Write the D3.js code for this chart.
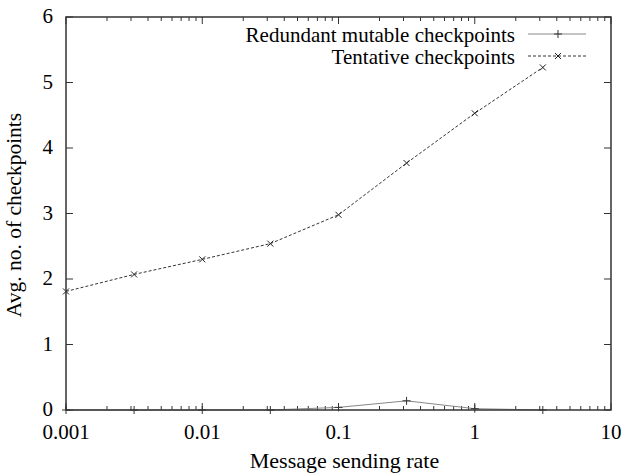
<!DOCTYPE html>
<html>
<head>
<meta charset="utf-8">
<script src="https://cdn.jsdelivr.net/npm/d3@7"></script>
<style>
  body { margin: 0; background: #fff; }
</style>
</head>
<body>
<div id="chart"></div>
<script>
// data
var rates = [0.001, 0.00316, 0.01, 0.0316, 0.1, 0.316, 1, 3.16];
var redundant = [0, 0, 0, 0, 0.04, 0.14, 0.02, 0];
var tentative = [1.81, 2.07, 2.30, 2.54, 2.98, 3.77, 4.53, 5.23];
var xTicks = [0.001, 0.01, 0.1, 1, 10];
var xTickLabels = ["0.001", "0.01", "0.1", "1", "10"];
var yTicks = [0, 1, 2, 3, 4, 5, 6];
var seriesNames = ["Redundant mutable checkpoints", "Tentative checkpoints"];

var FONT = "'Liberation Serif'";

var margin = { top: 17, right: 13, bottom: 64, left: 66 },
  width = 624 - margin.left - margin.right,
  height = 474 - margin.top - margin.bottom;

var svg = d3
  .select("#chart")
  .append("svg")
  .attr("width", 624)
  .attr("height", 474)
  .append("g")
  .attr("transform", "translate(" + margin.left + "," + margin.top + ")");

var x = d3.scaleLog().domain([0.001, 10]).range([0, width]);
var y = d3.scaleLinear().domain([0, 6]).range([height, 0]);

var axisColor = "#333";

// minor log ticks
var minor = [];
[0.001, 0.01, 0.1, 1].forEach(function (d) {
  for (var k = 2; k <= 9; k++) minor.push(d * k);
});

var ticks = svg.append("g").attr("stroke", axisColor).attr("stroke-width", 1);
// x major ticks bottom + top
xTicks.forEach(function (t) {
  ticks.append("line").attr("x1", x(t)).attr("x2", x(t)).attr("y1", height).attr("y2", height - 7);
  ticks.append("line").attr("x1", x(t)).attr("x2", x(t)).attr("y1", 0).attr("y2", 7);
});
minor.forEach(function (t) {
  ticks.append("line").attr("x1", x(t)).attr("x2", x(t)).attr("y1", height).attr("y2", height - 4);
  ticks.append("line").attr("x1", x(t)).attr("x2", x(t)).attr("y1", 0).attr("y2", 4);
});
yTicks.forEach(function (t) {
  ticks.append("line").attr("x1", 0).attr("x2", 7).attr("y1", y(t)).attr("y2", y(t));
  ticks.append("line").attr("x1", width).attr("x2", width - 7).attr("y1", y(t)).attr("y2", y(t));
});

// tick labels
svg
  .selectAll(".xlab")
  .data(xTicks)
  .enter()
  .append("text")
  .attr("x", function (d) { return x(d); })
  .attr("y", height + 29)
  .style("font-family", FONT)
  .style("text-anchor", "middle")
  .style("font-size", "21px")
  .text(function (d, i) { return xTickLabels[i]; });

svg
  .selectAll(".ylab")
  .data(yTicks)
  .enter()
  .append("text")
  .attr("x", -13)
  .attr("y", function (d) { return y(d) + 6; })
  .style("font-family", FONT)
  .style("text-anchor", "end")
  .style("font-size", "21px")
  .text(function (d) { return d; });

// axis labels
svg
  .append("text")
  .attr("x", width / 2 + 6)
  .attr("y", height + 58)
  .style("font-family", FONT)
  .style("text-anchor", "middle")
  .style("font-size", "22px")
  .text("Message sending rate");

svg
  .append("text")
  .attr("transform", "rotate(-90)")
  .attr("x", -198)
  .attr("y", -45)
  .style("font-family", FONT)
  .style("text-anchor", "middle")
  .style("font-size", "21.5px")
  .text("Avg. no. of checkpoints");

var line = d3
  .line()
  .x(function (d) { return x(d[0]); })
  .y(function (d) { return y(d[1]); });

var redData = rates.map(function (r, i) { return [r, redundant[i]]; });
var tenData = rates.map(function (r, i) { return [r, tentative[i]]; });

svg.append("path").datum(redData).attr("d", line)
  .attr("fill", "none").attr("stroke", "#888").attr("stroke-width", 1);
svg.append("path").datum(tenData).attr("d", line)
  .attr("fill", "none").attr("stroke", "#333").attr("stroke-width", 1)
  .attr("stroke-dasharray", "3,2");

function plus(g, cx, cy, s, c) {
  g.append("line").attr("x1", cx - s).attr("x2", cx + s).attr("y1", cy).attr("y2", cy).attr("stroke", c);
  g.append("line").attr("x1", cx).attr("x2", cx).attr("y1", cy - s).attr("y2", cy + s).attr("stroke", c);
}
function cross(g, cx, cy, s, c) {
  g.append("line").attr("x1", cx - s).attr("x2", cx + s).attr("y1", cy - s).attr("y2", cy + s).attr("stroke", c);
  g.append("line").attr("x1", cx - s).attr("x2", cx + s).attr("y1", cy + s).attr("y2", cy - s).attr("stroke", c);
}

var marks = svg.append("g").attr("stroke-width", 1);
redData.forEach(function (d) { plus(marks, x(d[0]), y(d[1]), 4, "#333"); });
tenData.forEach(function (d) { cross(marks, x(d[0]), y(d[1]), 3, "#222"); });

// frame
svg.append("rect")
  .attr("width", width).attr("height", height)
  .attr("fill", "none").attr("stroke", axisColor).attr("stroke-width", 1.5);

// legend
var legend = svg.append("g");
var legY = [17, 39];
seriesNames.forEach(function (name, i) {
  legend.append("text")
    .attr("x", 449)
    .attr("y", legY[i] + 8)
    .style("font-family", FONT)
    .style("text-anchor", "end")
    .style("font-size", "21px")
    .text(name);
  legend.append("line")
    .attr("x1", 462).attr("x2", 520)
    .attr("y1", legY[i]).attr("y2", legY[i])
    .attr("stroke", i === 0 ? "#888" : "#333")
    .attr("stroke-dasharray", i === 0 ? null : "3,2");
  if (i === 0) plus(legend, 492, legY[i], 4, "#333");
  else cross(legend, 492, legY[i], 3, "#222");
});
</script>
</body>
</html>
